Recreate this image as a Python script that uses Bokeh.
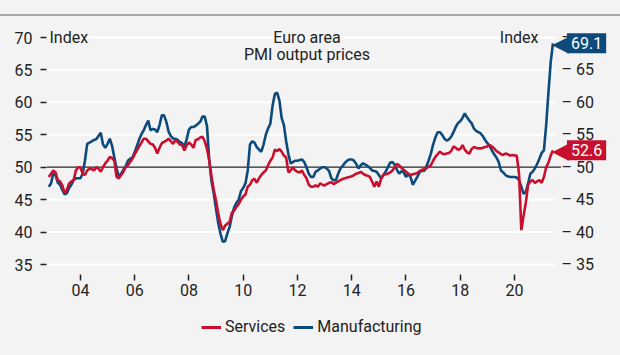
from bokeh.plotting import figure
from bokeh.models import (Range1d, LinearAxis, FixedTicker, Label, Legend,
                          LegendItem, ColumnDataSource, Div)
from bokeh.layouts import column
from bokeh.embed import file_html
from bokeh.resources import INLINE

BG = "#f3f3f3"
RED = "#c8102e"
BLUE = "#0d4a7c"
FONT = "Roboto"
TXT = "#222222"

# monthly data, first observation Nov 2002, last Jun 2021
first_year, first_month = 2002, 11

services = [
    48.5, 49.0,
    49.5, 49.2, 48.0, 47.8, 47.2, 46.0, 46.5, 47.5, 47.8, 48.0, 49.5, 50.0,
    50.0, 49.0, 48.8, 49.5, 49.8, 49.7, 49.5, 50.0, 49.8, 49.3, 50.0, 50.6,
    51.0, 51.6, 51.4, 51.0, 48.5, 48.3, 48.8, 49.3, 50.0, 50.3, 50.8, 51.3,
    52.0, 52.6, 53.2, 53.8, 54.4, 54.4, 54.0, 53.6, 53.5, 53.0, 52.1, 53.0,
    53.7, 53.9, 54.1, 54.4, 54.0, 53.6, 54.2, 53.9, 53.5, 53.4, 52.6, 53.4,
    53.8, 53.5, 53.0, 54.2, 54.3, 54.6, 54.7, 54.0, 52.8, 51.0, 48.5, 46.5,
    44.8, 42.8, 41.2, 40.3, 41.0, 41.3, 41.6, 43.0, 43.3, 43.9, 44.3, 45.0,
    45.5, 45.8, 47.0, 47.3, 48.0, 48.2, 47.6, 48.3, 48.8, 49.2, 49.5, 50.3,
    51.0, 51.5, 52.7, 52.5, 52.8, 52.4, 51.8, 51.5, 49.2, 49.5, 50.0, 49.5,
    49.3, 49.2, 49.5, 48.8, 48.3, 47.3, 47.0, 47.0, 47.2, 47.0, 47.5, 47.3,
    47.2, 47.4, 47.6, 47.7, 47.4, 47.6, 47.8, 48.0, 48.2, 48.3, 48.4, 48.5,
    48.6, 48.8, 49.0, 49.1, 49.3, 49.0, 48.8, 48.7, 48.5, 47.8, 47.0, 47.8,
    47.0, 48.2, 48.8, 48.9, 49.0, 49.2, 49.5, 50.0, 50.5, 50.3, 49.9, 49.6,
    49.3, 49.0, 48.8, 48.9, 49.0, 49.1, 49.4, 49.6, 49.7, 49.8, 50.1, 50.3,
    51.0, 51.6, 52.0, 52.4, 52.1, 52.0, 52.1, 52.2, 52.5, 53.2, 53.0, 52.7,
    52.8, 53.4, 52.7, 52.3, 52.1, 52.8, 53.1, 53.0, 52.9, 52.9, 53.0, 53.1,
    53.2, 53.4, 53.2, 52.9, 52.5, 52.3, 52.0, 51.9, 52.1, 52.0, 51.8, 51.9,
    51.8, 51.8, 49.0, 40.3, 42.5, 44.5, 47.3, 47.8, 48.0, 47.6, 47.8, 48.0,
    47.6, 48.5, 50.0, 50.7, 51.8, 52.6,
]

manufacturing = [
    47.0, 47.5,
    49.0, 48.8, 47.6, 47.3, 46.5, 45.8, 46.0, 46.8, 47.3, 48.0, 48.3, 48.3,
    48.3, 49.0, 51.0, 53.6, 53.8, 54.0, 54.2, 54.3, 54.8, 55.3, 53.5, 53.0,
    53.6, 54.4, 53.3, 51.5, 49.8, 48.5, 49.0, 49.6, 50.1, 51.0, 51.3, 51.5,
    52.3, 53.3, 54.3, 55.1, 55.7, 56.5, 57.2, 55.7, 55.9, 55.8, 55.4, 56.5,
    58.0, 58.0, 57.0, 55.5, 54.8, 54.4, 54.4, 54.2, 53.9, 53.7, 53.2, 54.3,
    55.8, 56.2, 56.2, 56.4, 56.7, 57.0, 57.8, 57.8, 56.3, 51.0, 47.8, 45.9,
    43.5, 41.3, 39.7, 38.5, 38.6, 39.8, 40.8, 42.5, 43.8, 44.5, 45.0, 46.3,
    46.8, 47.5, 49.5, 53.5, 54.0, 53.8, 53.1, 52.7, 52.4, 53.5, 55.0, 56.0,
    56.7, 59.5, 61.3, 61.5, 60.3, 57.6, 56.5, 54.0, 52.0, 50.6, 50.8, 51.0,
    51.0, 51.1, 51.2, 50.8, 50.0, 49.0, 48.5, 48.5, 49.3, 49.5, 49.8, 50.0,
    50.0, 49.8, 49.4, 48.3, 48.0, 48.0, 49.0, 49.8, 50.2, 50.7, 51.0, 51.2,
    51.2, 51.0, 50.5, 49.8, 50.3, 50.6, 50.4, 50.2, 49.9, 49.5, 49.4, 49.3,
    48.8, 48.3, 48.8, 49.3, 50.0, 50.7, 50.8, 50.4, 49.6, 49.0, 49.4, 49.2,
    48.5, 48.9, 48.5, 47.3, 47.9, 48.5, 49.2, 49.5, 49.4, 50.1, 51.0, 52.1,
    53.5, 54.6, 55.4, 55.4, 55.0, 54.4, 54.1, 54.3, 54.7, 55.4, 56.2, 56.8,
    57.1, 57.6, 58.3, 57.7, 57.2, 56.8, 56.0, 55.6, 55.4, 55.2, 54.8, 54.2,
    53.7, 53.3, 52.6, 52.0, 51.5, 50.8, 49.5, 49.2, 48.8, 48.6, 48.5, 48.5,
    48.5, 48.4, 48.0, 47.0, 45.9, 46.2, 47.5, 49.0, 49.3, 49.8, 50.5, 51.3,
    52.2, 52.6, 56.5, 61.5, 66.2, 69.1,
]

x_ticks = [2004, 2006, 2008, 2010, 2012, 2014, 2016, 2018, 2020]
x_tick_labels = ["04", "06", "08", "10", "12", "14", "16", "18", "20"]
y_ticks = [35, 40, 45, 50, 55, 60, 65, 70]
reference_level = 50

n = len(services)
t = [first_year + (first_month - 1 + i) / 12 for i in range(n)]
src = ColumnDataSource(dict(t=t, services=services, manufacturing=manufacturing))

# chart area (x0..x1); the frame is widened to the right to hold the value tags
x0, x1 = 2002.75, 2021.51
px_per_year = 27.125
x_frame_end = x1 + 65 / px_per_year
y0, y1 = 33.46, 71.08

p = figure(width=620, height=294, x_range=Range1d(x0, x_frame_end), y_range=Range1d(y0, y1),
           output_backend="svg", toolbar_location=None,
           min_border_left=46, min_border_right=0, min_border_top=14, min_border_bottom=36,
           background_fill_color=BG, border_fill_color=BG, outline_line_color=None,
           margin=0)

p.grid.visible = False
# horizontal grid lines limited to the chart area
p.segment(x0=[x0] * len(y_ticks), x1=[x1] * len(y_ticks), y0=y_ticks, y1=y_ticks,
          line_color="white", line_width=2)
p.segment(x0=[x0], x1=[x1 + 0.2], y0=[reference_level], y1=[reference_level],
          line_color="#222222", line_width=1.2)

r_blue = p.line("t", "manufacturing", source=src, line_color=BLUE, line_width=2.6)
r_red = p.line("t", "services", source=src, line_color=RED, line_width=2.6)

p.xaxis.ticker = FixedTicker(ticks=x_ticks)
p.xaxis.major_label_overrides = {k: v for k, v in zip(x_ticks, x_tick_labels)}
p.yaxis.ticker = FixedTicker(ticks=y_ticks)
p.yaxis.major_label_standoff = 8

# right-hand scale: labels brought back next to the chart area
# (the top label is hidden behind the value tag, as in the original)
right_labels = {v: f"\u2013 {v}" for v in y_ticks}
right_labels[y_ticks[-1]] = "\u2013"
right_axis = LinearAxis(ticker=FixedTicker(ticks=y_ticks),
                        major_label_overrides=right_labels,
                        major_tick_out=0, major_tick_in=0, major_label_standoff=-65)
p.add_layout(right_axis, "right")

for ax in list(p.xaxis) + list(p.yaxis) + [right_axis]:
    ax.axis_line_color = None
    ax.major_tick_line_color = TXT
    ax.major_tick_line_width = 1.5
    ax.minor_tick_line_color = None
    ax.major_label_text_font = FONT
    ax.major_label_text_font_size = "16px"
    ax.major_label_text_color = TXT
for ax in list(p.xaxis) + list(p.yaxis):
    ax.major_tick_out = 6
    ax.major_tick_in = 0
p.xaxis.major_label_standoff = 3

# texts inside the chart area
p.add_layout(Label(x=x0, y=70, x_offset=3, text="Index", text_font=FONT,
                   text_font_size="16px", text_color=TXT, text_baseline="middle",
                   text_align="left"))
p.add_layout(Label(x=x1, y=70, x_offset=-17, text="Index", text_font=FONT,
                   text_font_size="16px", text_color=TXT, text_baseline="middle",
                   text_align="right"))
p.add_layout(Label(x=(x0 + x1) / 2, y=70, x_offset=6, text="Euro area", text_font=FONT,
                   text_font_size="16px", text_color=TXT, text_baseline="middle",
                   text_align="center"))
p.add_layout(Label(x=(x0 + x1) / 2, y=67.4, x_offset=6, text="PMI output prices",
                   text_font=FONT, text_font_size="16px", text_color=TXT,
                   text_baseline="middle", text_align="center"))

# last-value tags
for vals, col in ((manufacturing, BLUE), (services, RED)):
    p.add_layout(Label(x=t[-1], y=vals[-1], x_offset=-1, text="\u25C0",
                       text_font="DejaVu Sans", text_font_size="22px", text_color=col,
                       text_baseline="middle", text_align="left"))
    p.add_layout(Label(x=t[-1], y=vals[-1], x_offset=14, text=f"{vals[-1]:.1f}",
                       text_font=FONT, text_font_size="16px", text_color="white",
                       text_baseline="middle", text_align="left",
                       background_fill_color=col, padding=4))

# legend in its own strip below the chart
lg = figure(width=620, height=45, output_backend="svg", toolbar_location=None,
            min_border=0, background_fill_color=BG, border_fill_color=BG,
            outline_line_color=None, margin=0,
            x_range=Range1d(0, 1), y_range=Range1d(0, 1))
lg.axis.visible = False
lg.grid.visible = False
nan = float("nan")
l_red = lg.line(x=[nan], y=[nan], line_color=RED, line_width=3)
l_blue = lg.line(x=[nan], y=[nan], line_color=BLUE, line_width=3)
legend = Legend(items=[LegendItem(label="Services", renderers=[l_red]),
                       LegendItem(label="Manufacturing", renderers=[l_blue])],
                orientation="horizontal", location=(155, 19),
                background_fill_alpha=0, border_line_color=None,
                label_text_font=FONT, label_text_font_size="16px", label_text_color=TXT,
                glyph_width=20, glyph_height=18, label_standoff=4, spacing=8,
                padding=0, margin=0)
lg.add_layout(legend, "center")

top = Div(width=620, height=16, margin=0,
          styles={"height": "16px", "width": "620px", "box-sizing": "border-box",
                  "border-bottom": "2px solid #a8a8a8", "background-color": BG})

layout = column(top, p, lg, spacing=0, margin=0,
                styles={"background-color": BG})

open("out.html", "w").write(file_html(layout, INLINE))
